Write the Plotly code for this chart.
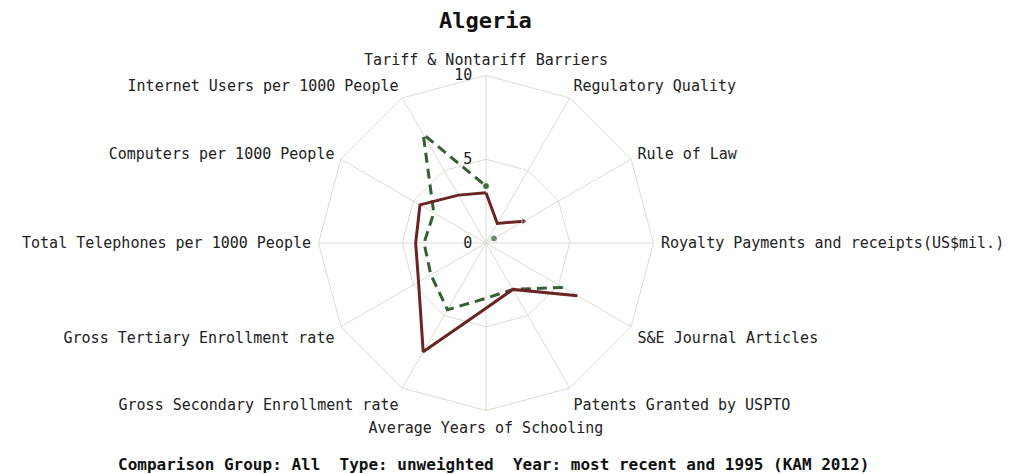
import plotly.graph_objects as go

categories = [
    "Tariff & Nontariff Barriers",
    "Regulatory Quality",
    "Rule of Law",
    "Royalty Payments and receipts(US$mil.)",
    "S&E Journal Articles",
    "Patents Granted by USPTO",
    "Average Years of Schooling",
    "Gross Secondary Enrollment rate",
    "Gross Tertiary Enrollment rate",
    "Total Telephones per 1000 People",
    "Computers per 1000 People",
    "Internet Users per 1000 People",
]
recent = [3.0, 1.35, 2.6, None, 6.3, 3.2, 3.9, 7.5, 4.65, 4.2, 4.55, 3.3]
y1995 = [3.4, None, 0.55, None, 5.3, 3.2, 3.3, 4.6, 3.8, 3.7, 3.6, 7.5]
radial_ticks = [0, 5, 10]

title_text = "Algeria"
footer_text = "Comparison Group: All  Type: unweighted  Year: most recent and 1995 (KAM 2012)"

FONT = "DejaVu Sans Mono"
GRID = "#dcdcd0"


def closed(vals):
    return list(vals) + [vals[0]]


def end_sizes(vals, size):
    # marker only where a drawn segment stops (next value missing)
    n = len(vals)
    out = []
    for i, v in enumerate(vals):
        q = vals[(i + 1) % n]
        out.append(size if (v is not None and q is None) else 0)
    return closed(out)


fig = go.Figure()
fig.add_trace(go.Scatterpolar(
    r=closed(y1995), theta=closed(categories), mode="lines+markers",
    line=dict(color="#355f35", width=3, dash="10px,6px"),
    marker=dict(color="#355f35", size=end_sizes(y1995, 7)),
    connectgaps=False, showlegend=False, hoverinfo="skip",
))
fig.add_trace(go.Scatterpolar(
    r=closed(recent), theta=closed(categories), mode="lines+markers",
    line=dict(color="#6a2424", width=3),
    marker=dict(color="#6a2424", size=end_sizes(recent, 7), symbol="triangle-right"),
    connectgaps=False, showlegend=False, hoverinfo="skip",
))

W, H = 1013, 474
cx, cy, R = 486, 243, 167.5
fig.update_layout(
    width=W, height=H,
    margin=dict(l=0, r=0, t=0, b=0),
    paper_bgcolor="white",
    showlegend=False,
    polar=dict(
        domain=dict(x=[(cx - R) / W, (cx + R) / W], y=[1 - (cy + R) / H, 1 - (cy - R) / H]),
        bgcolor="white",
        gridshape="linear",
        radialaxis=dict(
            range=[0, 10], tickvals=radial_ticks, ticktext=[str(t) for t in radial_ticks],
            angle=90, tickangle=90, side="counterclockwise",
            showline=False, gridcolor=GRID, gridwidth=1,
            ticks="outside", ticklen=8, tickcolor="rgba(0,0,0,0)",
            tickfont=dict(family=FONT, size=15, color="#222"),
        ),
        angularaxis=dict(
            direction="clockwise", rotation=90,
            categoryorder="array", categoryarray=categories,
            linecolor=GRID, linewidth=1, gridcolor=GRID, gridwidth=1,
            ticks="outside", ticklen=4, tickcolor="rgba(0,0,0,0)",
            tickfont=dict(family=FONT, size=15, color="#222"),
        ),
    ),
    annotations=[
        dict(text="<b>" + title_text + "</b>", x=0.479, y=1 - 20 / H, xref="paper", yref="paper",
             showarrow=False, xanchor="center", yanchor="middle",
             font=dict(family=FONT, size=22, color="#111")),
        dict(text="<b>" + footer_text + "</b>", x=0.487, y=1 - 464 / H, xref="paper", yref="paper",
             showarrow=False, xanchor="center", yanchor="middle",
             font=dict(family=FONT, size=16, color="#111")),
    ],
)

fig.write_html(
    "out.html",
    config={"displayModeBar": False},
    post_script="document.body.style.margin='0';document.body.style.padding='0';",
)
